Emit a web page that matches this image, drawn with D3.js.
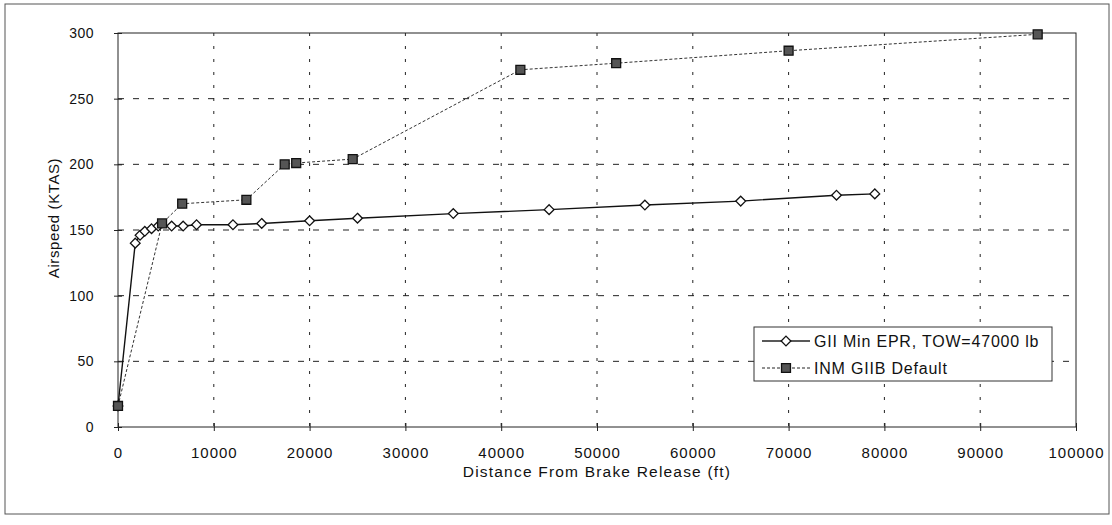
<!DOCTYPE html>
<html>
<head>
<meta charset="utf-8">
<script src="https://cdn.jsdelivr.net/npm/d3@7"></script>
<style>
  body { margin: 0; background: #fff; }
  svg { font-family: "Liberation Sans", Arial, sans-serif; }
</style>
</head>
<body>
<svg id="chart" width="1112" height="525"></svg>
<script>
// GII Min EPR, TOW=47000 lb  (diamonds, solid)
var minEprDist  = [0, 1800, 2300, 2800, 3500, 4200, 5600, 6800, 8200, 12000, 15000, 20000, 25000, 35000, 45000, 55000, 65000, 75000, 79000];
var minEprSpeed = [16, 140, 146, 149, 151, 153, 153, 153, 154, 154, 155, 157, 159, 162.5, 165.5, 169, 172, 176.5, 177.5];

// INM GIIB Default  (squares, dotted)
var inmDist  = [0, 4600, 6700, 13400, 17400, 18600, 24500, 42000, 52000, 70000, 96000];
var inmSpeed = [16, 155, 170, 173, 200, 201, 204, 272, 277, 286.5, 299];

var xTicks = [0, 10000, 20000, 30000, 40000, 50000, 60000, 70000, 80000, 90000, 100000];
var yTicks = [0, 50, 100, 150, 200, 250, 300];

var seriesNames = ["GII Min EPR, TOW=47000 lb", "INM GIIB Default"];

var svg = d3.select("#chart");
var margin = {left: 118, top: 33, right: 1076, bottom: 427};

var x = d3.scaleLinear().domain([0, 100000]).range([margin.left, margin.right]);
var y = d3.scaleLinear().domain([0, 300]).range([margin.bottom, margin.top]);

// outer frame of the figure
svg.append("rect")
    .attr("x", 5).attr("y", 4).attr("width", 1104).attr("height", 510)
    .attr("fill", "none").attr("stroke", "#555").attr("stroke-width", 1);

// grid
svg.append("g").selectAll("line")
    .data(yTicks.slice(1, -1)).enter().append("line")
    .attr("x1", margin.left).attr("x2", margin.right)
    .attr("y1", function(d) { return y(d); }).attr("y2", function(d) { return y(d); })
    .attr("stroke", "#222").attr("stroke-width", 1).attr("stroke-dasharray", "6,9");

svg.append("g").selectAll("line")
    .data(xTicks.slice(1, -1)).enter().append("line")
    .attr("y1", margin.top).attr("y2", margin.bottom)
    .attr("x1", function(d) { return x(d); }).attr("x2", function(d) { return x(d); })
    .attr("stroke", "#222").attr("stroke-width", 1).attr("stroke-dasharray", "3,10");

// plot box
svg.append("rect")
    .attr("x", margin.left).attr("y", margin.top)
    .attr("width", margin.right - margin.left).attr("height", margin.bottom - margin.top)
    .attr("fill", "none").attr("stroke", "#222").attr("stroke-width", 1);

// axes
var xAxis = svg.append("g")
    .attr("transform", "translate(0," + margin.bottom + ")")
    .call(d3.axisBottom(x).tickValues(xTicks).tickFormat(d3.format("d")).tickSizeInner(4).tickSizeOuter(0).tickPadding(16));
xAxis.select(".domain").remove();
xAxis.selectAll(".tick line").attr("y1", -4).attr("stroke", "#222");
xAxis.selectAll("text").attr("font-size", 15).attr("letter-spacing", 1).attr("fill", "#111");

var yAxis = svg.append("g")
    .attr("transform", "translate(" + margin.left + ",0)")
    .call(d3.axisLeft(y).tickValues(yTicks).tickSizeInner(4).tickSizeOuter(0).tickPadding(20));
yAxis.select(".domain").remove();
yAxis.selectAll(".tick line").attr("x1", 4).attr("x2", -4).attr("stroke", "#222");
yAxis.selectAll("text").attr("font-size", 14).attr("letter-spacing", 0.5).attr("fill", "#111");

// axis titles
svg.append("text")
    .attr("x", (margin.left + margin.right) / 2).attr("y", 477)
    .attr("text-anchor", "middle").attr("font-size", 15.5).attr("letter-spacing", 1.2).attr("fill", "#111")
    .text("Distance From Brake Release (ft)");

svg.append("text")
    .attr("transform", "translate(59,218) rotate(-90)")
    .attr("text-anchor", "middle").attr("font-size", 15).attr("letter-spacing", 0.6).attr("fill", "#111")
    .text("Airspeed (KTAS)");

// series
var line = d3.line()
    .x(function(d) { return x(d[0]); })
    .y(function(d) { return y(d[1]); });

var inmData = d3.zip(inmDist, inmSpeed);
var eprData = d3.zip(minEprDist, minEprSpeed);

svg.append("path").datum(inmData)
    .attr("d", line).attr("fill", "none")
    .attr("stroke", "#333").attr("stroke-width", 1).attr("stroke-dasharray", "3,2");

svg.append("path").datum(eprData)
    .attr("d", line).attr("fill", "none")
    .attr("stroke", "#111").attr("stroke-width", 1.4);

var diamond = d3.symbol().type(d3.symbolDiamond2 || d3.symbolDiamond).size(60);
var square = d3.symbol().type(d3.symbolSquare).size(80);

svg.append("g").selectAll("path")
    .data(eprData).enter().append("path")
    .attr("d", diamond)
    .attr("transform", function(d) { return "translate(" + x(d[0]) + "," + y(d[1]) + ")"; })
    .attr("fill", "#fff").attr("stroke", "#111").attr("stroke-width", 1.3);

svg.append("g").selectAll("path")
    .data(inmData).enter().append("path")
    .attr("d", square)
    .attr("transform", function(d) { return "translate(" + x(d[0]) + "," + y(d[1]) + ")"; })
    .attr("fill", "#555").attr("stroke", "#111").attr("stroke-width", 1.3);

// legend
var lg = svg.append("g").attr("transform", "translate(754,327)");
lg.append("rect")
    .attr("width", 298).attr("height", 54)
    .attr("fill", "#fff").attr("stroke", "#333").attr("stroke-width", 1);

var rows = [
    {name: seriesNames[0], dash: null, sym: diamond, fill: "#fff", w: 1.4},
    {name: seriesNames[1], dash: "3,2", sym: square, fill: "#555", w: 1}
];
rows.forEach(function(r, i) {
    var yy = 14 + i * 27;
    lg.append("line")
        .attr("x1", 8).attr("x2", 56).attr("y1", yy).attr("y2", yy)
        .attr("stroke", "#222").attr("stroke-width", r.w)
        .attr("stroke-dasharray", r.dash);
    lg.append("path").attr("d", r.sym)
        .attr("transform", "translate(32," + yy + ")")
        .attr("fill", r.fill).attr("stroke", "#111").attr("stroke-width", 1.3);
    lg.append("text")
        .attr("x", 60).attr("y", yy + 5.5)
        .attr("font-size", 16).attr("letter-spacing", 0.8).attr("fill", "#111")
        .text(r.name);
});
</script>
</body>
</html>
